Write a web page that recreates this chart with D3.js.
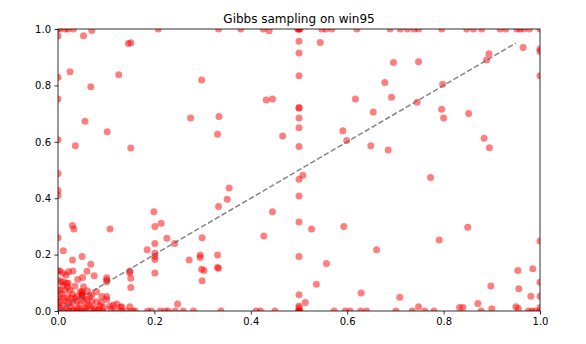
<!DOCTYPE html>
<html>
<head>
<meta charset="utf-8">
<script src="https://cdn.jsdelivr.net/npm/d3@7"></script>
<style>
  body { margin: 0; background: #fff; }
  text { font-family: "DejaVu Sans", sans-serif; }
</style>
</head>
<body>
<div id="chart"></div>
<script>
// chart data
var titleText = "Gibbs sampling on win95";
var tickValues = [0, 0.2, 0.4, 0.6, 0.8, 1.0];

// samples that sit on the top edge (y = 1)
var topEdge = [0, 0.004, 0.015, 0.021, 0.032, 0.208, 0.333, 0.379, 0.426, 0.497, 0.5, 0.5, 0.502,
  0.547, 0.556, 0.568, 0.62, 0.689, 0.71, 0.725, 0.739, 0.748, 0.796, 0.848, 0.862, 0.879,
  0.917, 0.929, 0.952, 0.958, 0.966, 0.978, 1.0];
// samples on the bottom edge (y = 0)
var bottomEdge = [0.003, 0.012, 0.022, 0.031, 0.04, 0.05, 0.058, 0.075, 0.083, 0.093, 0.118, 0.132,
  0.143, 0.155, 0.16, 0.186, 0.194, 0.212, 0.222, 0.229, 0.243, 0.26, 0.281, 0.338, 0.411, 0.42,
  0.45, 0.499, 0.5, 0.502, 0.573, 0.596, 0.606, 0.628, 0.64, 0.701, 0.735, 0.761, 0.78, 0.878,
  0.976, 0.983, 0.99, 0.999];
// samples on the left edge (x = 0)
var leftEdge = [0.975, 0.829, 0.752, 0.607, 0.488, 0.427, 0.41, 0.26, 0.142, 0.11, 0.074, 0.04, 0.02];
// samples on the right edge (x = 1)
var rightEdge = [0.929, 0.92, 0.834, 0.248, 0.102, 0.052, 0.012];
// samples in the x = 0.5 column
var midColumn = [0.957, 0.915, 0.834, 0.722, 0.719, 0.684, 0.65, 0.583, 0.467, 0.408, 0.316,
  0.193, 0.058, 0.018, 0.011];

// other samples [x, y]
var upperPoints = [
  [0.053, 0.976], [0.070, 0.995], [0.146, 0.949], [0.151, 0.951], [0.438, 0.994], [0.544, 0.952],
  [0.025, 0.848], [0.126, 0.838], [0.068, 0.795], [0.298, 0.819],
  [0.056, 0.673], [0.102, 0.636], [0.275, 0.684], [0.334, 0.690], [0.331, 0.627], [0.036, 0.586],
  [0.151, 0.578], [0.432, 0.748], [0.445, 0.752], [0.617, 0.752], [0.654, 0.706], [0.466, 0.621],
  [0.591, 0.639], [0.599, 0.605], [0.649, 0.586], [0.965, 0.934], [0.894, 0.912], [0.889, 0.890],
  [0.696, 0.881], [0.748, 0.884], [0.678, 0.810], [0.798, 0.804], [0.692, 0.758], [0.745, 0.740],
  [0.796, 0.715], [0.800, 0.684], [0.852, 0.700], [0.685, 0.571], [0.884, 0.613], [0.895, 0.579]
];
var middlePoints = [
  [0.508, 0.481], [0.355, 0.436], [0.351, 0.396], [0.333, 0.371], [0.445, 0.352], [0.526, 0.291],
  [0.593, 0.300], [0.427, 0.266], [0.661, 0.217], [0.557, 0.168], [0.536, 0.095], [0.629, 0.064],
  [0.513, 0.030], [0.773, 0.473], [0.850, 0.297], [0.791, 0.252], [0.954, 0.144], [0.985, 0.150],
  [0.898, 0.089], [0.956, 0.079], [0.709, 0.049], [0.981, 0.052], [0.871, 0.027], [0.748, 0.015],
  [0.833, 0.012], [0.840, 0.012], [0.950, 0.015], [0.955, 0.009], [0.900, 0.008]
];
var lowerLeftPoints = [
  [0.030, 0.303], [0.033, 0.291], [0.108, 0.291], [0.199, 0.352], [0.214, 0.311], [0.201, 0.300],
  [0.226, 0.258], [0.299, 0.260], [0.201, 0.239], [0.242, 0.239], [0.011, 0.214], [0.185, 0.217],
  [0.050, 0.193], [0.201, 0.205], [0.201, 0.193], [0.201, 0.183], [0.030, 0.181], [0.272, 0.181],
  [0.295, 0.199], [0.295, 0.190], [0.331, 0.199], [0.068, 0.166], [0.201, 0.135], [0.149, 0.142],
  [0.149, 0.136], [0.298, 0.148], [0.303, 0.144], [0.331, 0.154], [0.333, 0.152], [0.299, 0.107],
  [0.004, 0.142], [0.010, 0.134], [0.022, 0.139], [0.031, 0.142], [0.017, 0.128], [0.051, 0.119],
  [0.060, 0.141], [0.075, 0.125], [0.151, 0.116], [0.151, 0.083], [0.101, 0.118], [0.101, 0.110],
  [0.101, 0.104], [0.041, 0.112], [0.021, 0.098], [0.006, 0.104], [0.053, 0.086], [0.050, 0.068],
  [0.050, 0.063], [0.050, 0.057], [0.101, 0.051], [0.101, 0.041], [0.070, 0.057], [0.080, 0.068],
  [0.091, 0.051], [0.248, 0.025], [0.149, 0.015], [0.122, 0.025], [0.132, 0.015], [0.087, 0.018],
  [0.108, 0.018], [0.130, 0.013], [0.070, 0.033], [0.080, 0.033], [0.061, 0.072], [0.066, 0.051],
  [0.039, 0.051], [0.046, 0.068], [0.050, 0.047], [0.050, 0.054], [0.004, 0.074], [0.015, 0.074],
  [0.025, 0.074], [0.011, 0.104], [0.018, 0.098]
];
// the crowded corner near the origin
var originPoints = [
  [0.005, 0.010], [0.010, 0.020], [0.015, 0.035], [0.020, 0.050], [0.008, 0.060], [0.025, 0.015],
  [0.030, 0.030], [0.035, 0.045], [0.040, 0.010], [0.045, 0.025], [0.012, 0.045], [0.055, 0.035],
  [0.060, 0.015], [0.065, 0.020], [0.020, 0.085], [0.030, 0.060], [0.035, 0.088], [0.040, 0.035],
  [0.010, 0.090], [0.027, 0.045], [0.045, 0.005], [0.055, 0.010], [0.002, 0.030], [0.018, 0.008],
  [0.075, 0.010], [0.090, 0.030], [0.095, 0.012], [0.110, 0.008], [0.115, 0.020], [0.003, 0.050],
  [0.022, 0.028], [0.033, 0.005], [0.060, 0.040], [0.085, 0.005], [0.070, 0.008]
];

// diagonal reference line end points
var diagX = [0, 0.95];
var diagY = [0, 0.95];

var svgWidth = 586;
var svgHeight = 344;
var margin = { top: 29, right: 46, bottom: 33, left: 58 };
var width = svgWidth - margin.left - margin.right;
var height = svgHeight - margin.top - margin.bottom;

var svg = d3.select("#chart")
  .append("svg")
  .attr("width", svgWidth)
  .attr("height", svgHeight);

var chartGroup = svg.append("g")
  .attr("transform", `translate(${margin.left}, ${margin.top})`);

var xScale = d3.scaleLinear().domain([0, 1]).range([0, width]);
var yScale = d3.scaleLinear().domain([0, 1]).range([height, 0]);

// clip the markers to the axes box like matplotlib does
svg.append("defs").append("clipPath")
  .attr("id", "plotClip")
  .append("rect")
  .attr("width", width)
  .attr("height", height);

// collect every sample into one list
var samples = [];
topEdge.forEach(x => samples.push([x, 1]));
bottomEdge.forEach(x => samples.push([x, 0]));
leftEdge.forEach(y => samples.push([0, y]));
rightEdge.forEach(y => samples.push([1, y]));
midColumn.forEach(y => samples.push([0.5, y]));
upperPoints.concat(middlePoints, lowerLeftPoints, originPoints).forEach(p => samples.push(p));

var plotArea = chartGroup.append("g").attr("clip-path", "url(#plotClip)");

plotArea.selectAll("circle")
  .data(samples)
  .enter()
  .append("circle")
  .attr("cx", d => xScale(d[0]))
  .attr("cy", d => yScale(d[1]))
  .attr("r", 3.5)
  .attr("fill", "red")
  .attr("fill-opacity", 0.5);

// dashed diagonal
plotArea.append("line")
  .attr("x1", xScale(diagX[0]))
  .attr("y1", yScale(diagY[0]))
  .attr("x2", xScale(diagX[1]))
  .attr("y2", yScale(diagY[1]))
  .attr("stroke", "#666")
  .attr("stroke-opacity", 0.8)
  .attr("stroke-width", 1.5)
  .attr("stroke-dasharray", "5.5,2.4");

// axes
var bottomAxis = d3.axisBottom(xScale).tickValues(tickValues)
  .tickFormat(d3.format(".1f")).tickSize(3.5).tickPadding(3.5);
var leftAxis = d3.axisLeft(yScale).tickValues(tickValues)
  .tickFormat(d3.format(".1f")).tickSize(3.5).tickPadding(3.5);

var xAxis = chartGroup.append("g")
  .attr("transform", `translate(0, ${height})`)
  .call(bottomAxis);
var yAxis = chartGroup.append("g")
  .call(leftAxis);

[xAxis, yAxis].forEach(ax => {
  ax.select(".domain").remove();
  ax.selectAll("line").attr("stroke", "#000").attr("stroke-width", 0.8);
  ax.selectAll("text")
    .attr("fill", "#000")
    .style("font-size", "10px")
    .style("font-family", "DejaVu Sans, sans-serif");
});

// frame
chartGroup.append("rect")
  .attr("width", width)
  .attr("height", height)
  .attr("fill", "none")
  .attr("stroke", "#000")
  .attr("stroke-width", 0.8);

// title
svg.append("text")
  .attr("x", margin.left + width / 2)
  .attr("y", margin.top - 6)
  .attr("text-anchor", "middle")
  .style("font-size", "12px")
  .text(titleText);
</script>
</body>
</html>
